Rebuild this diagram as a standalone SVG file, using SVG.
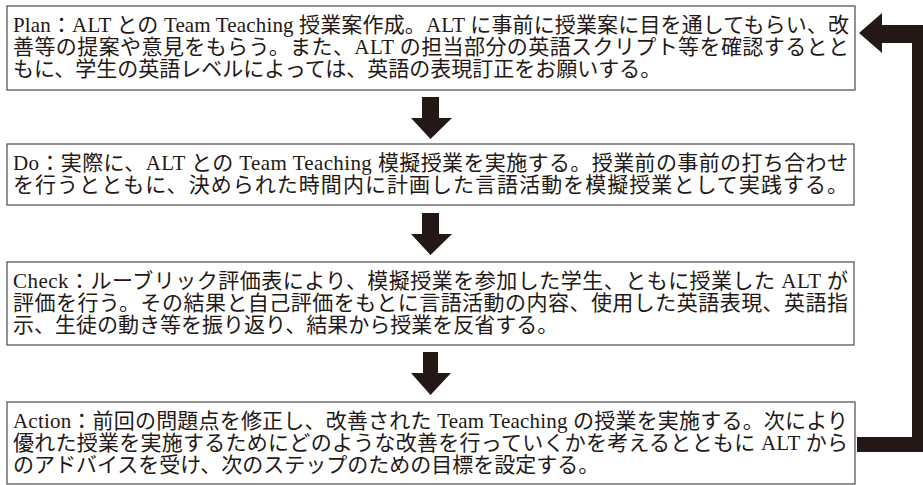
<svg xmlns="http://www.w3.org/2000/svg" width="923" height="485" viewBox="0 0 923 485">
<style>
.box{fill:#ffffff;stroke:#595757;stroke-width:1.3}
.t{font-family:"Liberation Serif","Noto Sans CJK JP",serif;font-size:21px;fill:#231815}
.arr{fill:#231815}
</style>
<rect width="923" height="485" fill="#ffffff"/>
<g id="plan">
<rect class="box" x="7" y="6" width="848" height="84"/>
<text class="t" x="13" y="32" textLength="836" lengthAdjust="spacing">Plan：ALT との Team Teaching 授業案作成。ALT に事前に授業案に目を通してもらい、改</text>
<text class="t" x="13" y="54" textLength="836" lengthAdjust="spacing">善等の提案や意見をもらう。また、ALT の担当部分の英語スクリプト等を確認するとと</text>
<text class="t" x="13" y="76">もに、学生の英語レベルによっては、英語の表現訂正をお願いする。</text>
</g>
<g id="do">
<rect class="box" x="7" y="144" width="847" height="61"/>
<text class="t" x="13" y="170" textLength="835" lengthAdjust="spacing">Do：実際に、ALT との Team Teaching 模擬授業を実施する。授業前の事前の打ち合わせ</text>
<text class="t" x="13" y="192" textLength="835" lengthAdjust="spacing">を行うとともに、決められた時間内に計画した言語活動を模擬授業として実践する。</text>
</g>
<g id="check">
<rect class="box" x="7" y="262" width="847" height="83"/>
<text class="t" x="13" y="288" textLength="835" lengthAdjust="spacing">Check：ルーブリック評価表により、模擬授業を参加した学生、ともに授業した ALT が</text>
<text class="t" x="13" y="310" textLength="835" lengthAdjust="spacing">評価を行う。その結果と自己評価をもとに言語活動の内容、使用した英語表現、英語指</text>
<text class="t" x="13" y="332">示、生徒の動き等を振り返り、結果から授業を反省する。</text>
</g>
<g id="action">
<rect class="box" x="7" y="402" width="848" height="82"/>
<text class="t" x="13" y="428" textLength="835" lengthAdjust="spacing">Action：前回の問題点を修正し、改善された Team Teaching の授業を実施する。次により</text>
<text class="t" x="13" y="450" textLength="835" lengthAdjust="spacing">優れた授業を実施するためにどのような改善を行っていくかを考えるとともに ALT から</text>
<text class="t" x="13" y="472">のアドバイスを受け、次のステップのための目標を設定する。</text>
</g>
<g id="connectors">
<path class="arr" d="M422,97 H439 V118 H452 L430.5,139 L411,118 H422 Z"/>
<path class="arr" d="M422,213 H439 V234 H452 L430.5,255 L411,234 H422 Z"/>
<path class="arr" d="M423,352 H438 V373 H451 L430.5,395 L411,373 H423 Z"/>
<path class="arr" d="M859,33 L882,13 V25 H930 V452 H857 V437 H912 V43 H882 V53 Z"/>
</g>
</svg>
